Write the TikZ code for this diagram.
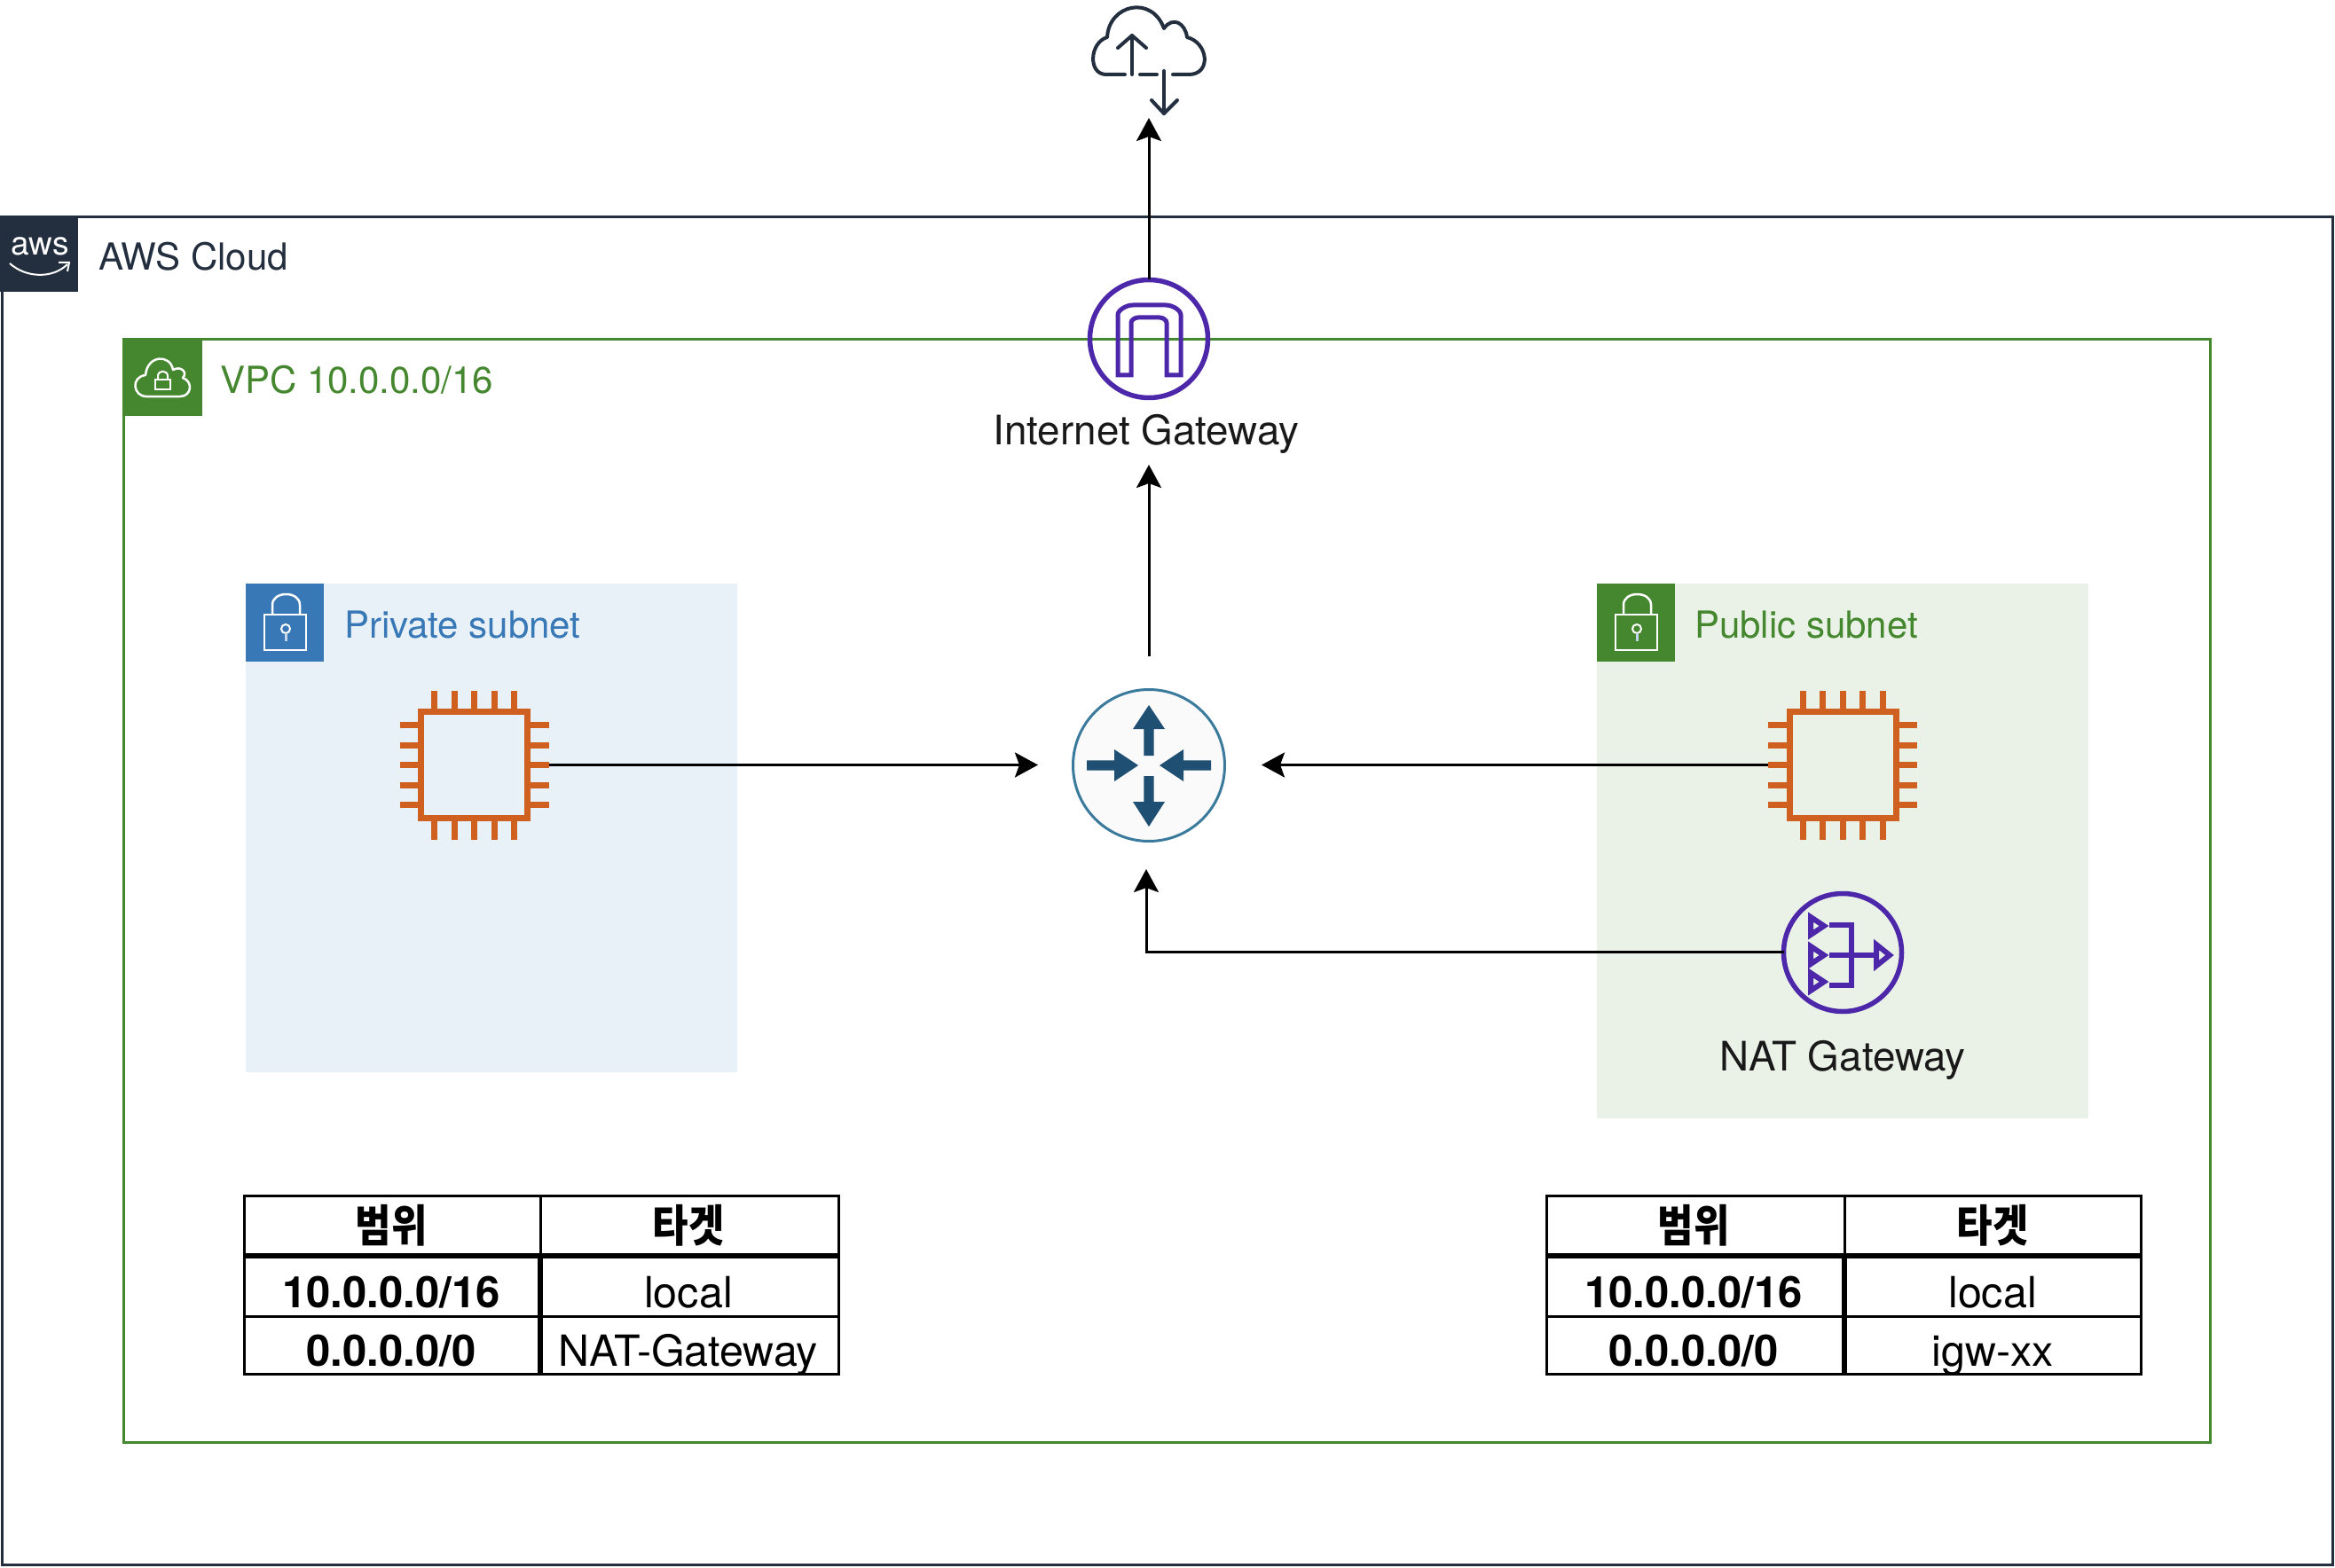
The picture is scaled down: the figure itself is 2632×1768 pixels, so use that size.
\documentclass[tikz,border=0pt]{standalone}
\usepackage{fontspec}
\setmainfont{TeX Gyre Heros}
\newfontfamily\krfont[FakeStretch=0.88]{Noto Sans CJK KR}
\usetikzlibrary{arrows.meta}
\definecolor{awsdark}{HTML}{232F3E}
\definecolor{vpcgreen}{HTML}{44872E}
\definecolor{subblue}{HTML}{3878B6}
\definecolor{subbluefill}{HTML}{E8F1F7}
\definecolor{subgreenfill}{HTML}{EAF2E7}
\definecolor{chiporange}{HTML}{D0601F}
\definecolor{gwpurple}{HTML}{4D27AA}
\definecolor{routerblue}{HTML}{1F4F73}
\definecolor{routeredge}{HTML}{3A7A9C}
\newcommand\fsz[1]{\fontsize{#1}{#1}\selectfont}
\tikzset{
  txt/.style={inner sep=0pt,outer sep=0pt,anchor=base},
  txtw/.style={inner sep=0pt,outer sep=0pt,anchor=base west},
  grouplabel/.style={txtw,font=\fsz{42}},
  iconlabel/.style={txt,font=\fsz{45.8},text=black!90},
  tablehead/.style={inner sep=0pt,outer sep=0pt,anchor=center,font=\krfont\bfseries\fsz{50}},
  tablebold/.style={txt,font=\bfseries\fsz{49}},
  tableplain/.style={txt,font=\fsz{48.4}},
  flow/.style={line width=3pt,black,-{Stealth[length=26pt,width=28pt,inset=5pt]}},
  thinrule/.style={line width=3pt,black},
  thickrule/.style={line width=6pt,black},
  hub/.style={circle,inner sep=0pt,outer sep=0pt,minimum size=#1},
  tablabel/.style={white,line width=2.5pt},
}
\newcommand\lockicon[2]{%
  \begin{scope}[shift={(#1,#2)}]
    \draw[tablabel] (21,35) rectangle (68,75);
    \draw[tablabel] (30,35) -- (30,24) .. controls (30,8) and (61,8) .. (61,24) -- (61,35);
    \draw[white,line width=2pt] (45,51) circle[radius=5pt];
    \draw[white!70!subblue,line width=3pt] (45,56) -- (45,65);
  \end{scope}}
\newcommand\chipicon[3]{%
  \node[inner sep=0pt,outer sep=0pt,minimum size=168pt] (#1) at (#2,#3) {};
  \begin{scope}[shift={(#2,#3)},chiporange,line width=7pt]
    \draw (-60,-60) rectangle (60,60);
    \foreach \p in {-45,-22.5,0,22.5,45}{
      \draw (\p,-84) -- (\p,-60);
      \draw (\p,60) -- (\p,84);
      \draw (-84,\p) -- (-60,\p);
      \draw (60,\p) -- (84,\p);
    }
  \end{scope}}
\begin{document}
\begin{tikzpicture}[x=1pt,y=-1pt]
\useasboundingbox (0,0) rectangle (2632,1768);
% AWS cloud group
\draw[awsdark,line width=3pt] (2,244.5) rectangle (2629.5,1764);
\fill[awsdark] (0,243) rectangle (88,329);
\node[txt,font=\fsz{37},text=white] (awslogo) at (45,288) {aws};
\draw[white,line width=2pt] (11,297) .. controls (30,314) and (60,314) .. (76,298);
\draw[white,line width=2pt] (66,296) -- (78,296) -- (76,306);
\node[grouplabel,text=awsdark] (awslabel) at (111,305) {AWS Cloud};
% VPC group
\draw[vpcgreen,line width=3pt] (139,382.5) rectangle (2491,1626);
\fill[vpcgreen] (138,381) rectangle (228,469);
\draw[tablabel,line join=round] (165,447) .. controls (150,447) and (147,425) .. (164,423)
  .. controls (166,400) and (192,399) .. (195,417)
  .. controls (204,412) and (212,420) .. (206,426)
  .. controls (218,430) and (216,447) .. (203,447) -- cycle;
\draw[white,line width=2.5pt] (175,428) rectangle (192,439);
\draw[white,line width=2pt] (178,428) -- (178,424) .. controls (178,417) and (189,417) .. (189,424) -- (189,428);
\node[grouplabel,text=vpcgreen] (vpclabel) at (248,443) {VPC 10.0.0.0/16};
% Private subnet
\fill[subbluefill] (277,658) rectangle (831,1209);
\fill[subblue] (277,658) rectangle (365,746);
\lockicon{277}{658}
\node[grouplabel,text=subblue] (privlabel) at (388,719) {Private subnet};
% Public subnet
\fill[subgreenfill] (1800,658) rectangle (2354,1261);
\fill[vpcgreen] (1800,658) rectangle (1888,746);
\lockicon{1800}{658}
\node[grouplabel,text=vpcgreen] (publabel) at (1910,719) {Public subnet};
% Chips
\chipicon{chipL}{534.5}{862.5}
\chipicon{chipR}{2077}{862.5}
% Internet gateway
\node[hub=133pt,draw=gwpurple,line width=5.5pt] (igw) at (1295,382) {};
\begin{scope}[shift={(1295,382)},gwpurple,line width=5pt,line join=miter]
  \draw (-35,41) -- (-35,-27) .. controls (-35,-32) and (-26,-38) .. (-18,-38)
    -- (19,-38) .. controls (27,-38) and (36,-32) .. (36,-27) -- (36,41) -- (20,41) -- (20,-18)
    .. controls (20,-21) and (16,-24) .. (12,-24) -- (-12,-24)
    .. controls (-16,-24) and (-20,-21) .. (-20,-18) -- (-20,41) -- cycle;
\end{scope}
\node[iconlabel] (igwlabel) at (1292,501) {Internet Gateway};
% Internet cloud icon
\coordinate (cloudtip) at (1295,133);
\begin{scope}[shift={(1150,0)},awsdark,line width=4pt,line cap=round,line join=round]
  \draw (118,84) -- (97,84) .. controls (76,84) and (78,48) .. (98,42)
     .. controls (100,5) and (148,-6) .. (162,32)
     .. controls (172,18) and (186,26) .. (188,42)
     .. controls (212,48) and (216,84) .. (190,84) -- (172,84);
  \draw (135,84) -- (154,84);
  \draw (126,84) -- (126,40);
  \draw (110,54) -- (126,40) -- (142,54);
  \draw (162,80) -- (162,128);
  \draw (148,113) -- (162,128) -- (177,113);
\end{scope}
% Router
\node[hub=171pt,draw=routeredge,fill=black!2,line width=3pt] (router) at (1295,863) {};
\begin{scope}[shift={(1295,863)}]
  \fill[routerblue] (0,-68) -- (18,-41) -- (5.7,-41) -- (5.7,-11) -- (-5.7,-11) -- (-5.7,-41) -- (-18,-41) -- cycle;
  \fill[routerblue] (0,69) -- (18,41) -- (5.7,41) -- (5.7,12) -- (-5.7,12) -- (-5.7,41) -- (-18,41) -- cycle;
  \fill[routerblue] (-70,-5.7) -- (-39,-5.7) -- (-39,-18) -- (-12,0) -- (-39,18) -- (-39,5.7) -- (-70,5.7) -- cycle;
  \fill[routerblue] (70,-5.7) -- (39,-5.7) -- (39,-18) -- (12,0) -- (39,18) -- (39,5.7) -- (70,5.7) -- cycle;
\end{scope}
% NAT gateway
\node[hub=133pt,draw=gwpurple,line width=5.5pt] (nat) at (2077,1074) {};
\begin{scope}[shift={(2077,1074)},gwpurple,line width=6pt,line join=miter]
  \foreach \ty in {-30,3,33}{
    \draw (-36,\ty-10) -- (-21,\ty) -- (-36,\ty+10) -- cycle;
  }
  \draw (-15,-31) -- (10,-31) -- (10,37) -- (-15,37);
  \draw (-15,3) -- (38,3);
  \draw (38,-9) -- (53,3) -- (38,15) -- cycle;
\end{scope}
\node[iconlabel] (natlabel) at (2077,1207) {NAT Gateway};
% Connectors
\coordinate (rW) at (1170,862.5);
\coordinate (rE) at (1422,862.5);
\coordinate (rS) at (1292,980);
\coordinate (rN) at (1295,740);
\coordinate (igwin) at (1295,524);
\coordinate (natbend) at (1292,1073);
\draw[flow] (igw.north) -- (cloudtip);
\draw[flow] (rN) -- (igwin);
\draw[flow] (chipL.east) -- (rW);
\draw[flow] (chipR.west) -- (rE);
\draw[flow] (nat.west |- natbend) -- (natbend) -- (rS);
% Left table
\draw[thinrule] (275,1348) rectangle (945,1549);
\draw[thinrule] (609,1348) -- (609,1416);
\draw[thickrule] (609,1416) -- (609,1549);
\draw[thickrule] (275,1416) -- (945,1416);
\draw[thinrule] (275,1484) -- (945,1484);
\node[tablehead] (lh1) at (441,1382) {범위};
\node[tablehead] (lh2) at (776,1382) {타겟};
\node[tablebold] (lc1) at (441,1474) {10.0.0.0/16};
\node[tablebold] (lc2) at (441,1540) {0.0.0.0/0};
\node[tableplain] (ld1) at (776,1474) {local};
\node[tableplain] (ld2) at (776,1540) {NAT-Gateway};
% Right table
\draw[thinrule] (1743,1348) rectangle (2413,1549);
\draw[thinrule] (2079,1348) -- (2079,1416);
\draw[thickrule] (2079,1416) -- (2079,1549);
\draw[thickrule] (1743,1416) -- (2413,1416);
\draw[thinrule] (1743,1484) -- (2413,1484);
\node[tablehead] (rh1) at (1909,1382) {범위};
\node[tablehead] (rh2) at (2246,1382) {타겟};
\node[tablebold] (rc1) at (1909,1474) {10.0.0.0/16};
\node[tablebold] (rc2) at (1909,1540) {0.0.0.0/0};
\node[tableplain] (rd1) at (2246,1474) {local};
\node[tableplain] (rd2) at (2246,1540) {igw-xx};
\end{tikzpicture}
\end{document}
